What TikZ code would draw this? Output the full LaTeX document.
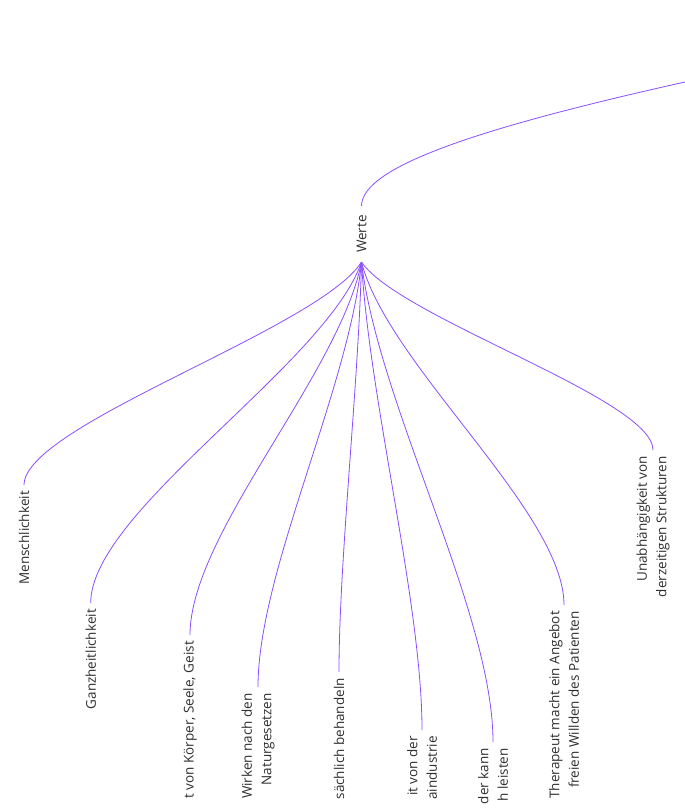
\documentclass[tikz,border=0pt]{standalone}
\usepackage{fontspec}
\setmainfont{Open Sans}
\usepackage{xcolor}
\usepackage{tikz}

\definecolor{branchcol}{HTML}{8B4DFF}
\definecolor{textcol}{HTML}{2E2E2E}

\begin{document}
\begin{tikzpicture}[
  x=1pt, y=-1pt,
  topic/.style={rotate=90, anchor=east, align=right, inner xsep=6pt, inner ysep=2pt, text=textcol, font=\fontsize{13.5}{19.5}\selectfont},
  branch/.style={draw=branchcol, line width=0.8pt}
]
\useasboundingbox (0,0) rectangle (685,809);
\clip (0,0) rectangle (685,809);
\node[topic, anchor=center, inner xsep=9pt] (werte) at (361.5,234) {Werte};
\coordinate (parent) at (685,82);
\node[topic] (mensch) at (24,485) {Menschlichkeit};
\node[topic] (ganz) at (90.7,603) {Ganzheitlichkeit};
\node[topic] (einheit) at (190,635) {t von Körper, Seele, Geist};
\node[topic] (natur) at (258,687) {Wirken nach den\\Naturgesetzen};
\node[topic] (sachl) at (339,672) {sächlich behandeln};
\node[topic] (pharma) at (422,730) {it von der\\aindustrie};
\node[topic] (leisten) at (493,742) {der kann\\h leisten};
\node[topic] (angebot) at (564,605) {Therapeut macht ein Angebot\\freien Willden des Patienten};
\node[topic] (unabh) at (653,450) {Unabhängigkeit von\\derzeitigen Strukturen};
\draw[branch] (parent) .. controls (485,126.6) and +(0,-40) .. (werte.east);
\draw[branch] (werte.west) .. controls +(-43,67) and +(0,-60) .. (mensch.east);
\draw[branch] (werte.west) .. controls +(-35,102) and +(0,-92) .. (ganz.east);
\draw[branch] (werte.west) .. controls +(-22,112) and +(0,-101) .. (einheit.east);
\draw[branch] (werte.west) .. controls +(-13,128) and +(0,-115) .. (natur.east);
\draw[branch] (werte.west) .. controls +(-3,123) and +(0,-111) .. (sachl.east);
\draw[branch] (werte.west) .. controls +(8,140) and +(0,-126) .. (pharma.east);
\draw[branch] (werte.west) .. controls +(17,144) and +(0,-130) .. (leisten.east);
\draw[branch] (werte.west) .. controls +(26,103) and +(0,-93) .. (angebot.east);
\draw[branch] (werte.west) .. controls +(38,56) and +(0,-51) .. (unabh.east);
\end{tikzpicture}
\end{document}
